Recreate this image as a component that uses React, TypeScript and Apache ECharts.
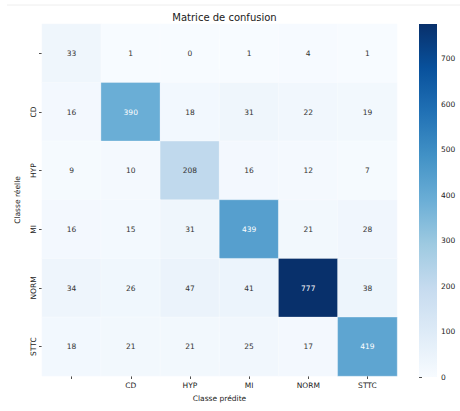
import React, { useEffect, useRef } from "react";
import * as echarts from "echarts";

const classes = ["-", "CD", "HYP", "MI", "NORM", "STTC"];
const rowDash = [33, 1, 0, 1, 4, 1];
const rowCD = [16, 390, 18, 31, 22, 19];
const rowHYP = [9, 10, 208, 16, 12, 7];
const rowMI = [16, 15, 31, 439, 21, 28];
const rowNORM = [34, 26, 47, 41, 777, 38];
const rowSTTC = [18, 21, 21, 25, 17, 419];
const matrix = [rowDash, rowCD, rowHYP, rowMI, rowNORM, rowSTTC];
const colorbarMax = 777;
const blues = ["#f7fbff", "#deebf7", "#c6dbef", "#9ecae1", "#6baed6", "#4292c6", "#2171b5", "#08519c", "#08306b"];

const FONT = "DejaVu Sans";
const CB = { left: 419, top: 24, width: 18, height: 353 };

export default function App() {
  const ref = useRef<HTMLDivElement>(null);
  useEffect(() => {
    document.body.style.margin = "0";
    const chart = echarts.init(ref.current!, null, { renderer: "svg" });
    const data: any[] = [];
    matrix.forEach((row, yi) =>
      row.forEach((v, xi) => {
        data.push({
          value: [xi, yi, v],
          label: { color: v > 300 ? "#ffffff" : "#333333" },
        });
      })
    );
    const stops = blues.map((c, i) => ({ offset: 1 - i / (blues.length - 1), color: c }));
    stops.reverse();
    chart.setOption({
      animation: false,
      backgroundColor: "#ffffff",
      textStyle: { fontFamily: FONT },
      title: {
        text: "Matrice de confusion",
        left: 219.5,
        textAlign: "center",
        top: 7,
        textStyle: { fontFamily: FONT, fontSize: 10, fontWeight: "normal", color: "#1a1a1a" },
      },
      graphic: [
        { type: "line", shape: { x1: 7, y1: 5, x2: 460, y2: 5 }, style: { stroke: "#eeeeee", lineWidth: 1 } },
        {
          type: "rect",
          shape: { x: CB.left, y: CB.top, width: CB.width, height: CB.height },
          style: {
            fill: new echarts.graphic.LinearGradient(0, 0, 0, 1, stops),
          },
          z: 1,
        },
      ],
      grid: [
        { left: 42, top: 24, width: 355, height: 352 },
        { left: CB.left, top: CB.top, width: CB.width, height: CB.height },
      ],
      xAxis: [
        {
          type: "category",
          gridIndex: 0,
          data: classes,
          name: "Classe prédite",
          nameLocation: "middle",
          nameGap: 18,
          nameTextStyle: { fontFamily: FONT, fontSize: 7.5, color: "#222" },
          axisLine: { show: false },
          axisTick: { show: true, alignWithLabel: true, length: 3, lineStyle: { color: "#222", width: 0.8 } },
          axisLabel: {
            fontFamily: FONT,
            fontSize: 7.5,
            color: "#222",
            margin: 5,
            formatter: (v: string) => (v === "-" ? "" : v),
          },
          splitLine: { show: false },
        },
        { type: "value", gridIndex: 1, show: false, min: 0, max: 1 },
      ],
      yAxis: [
        {
          type: "category",
          gridIndex: 0,
          data: classes,
          inverse: true,
          name: "Classe réelle",
          nameLocation: "middle",
          nameGap: 19,
          nameRotate: 90,
          nameTextStyle: { fontFamily: FONT, fontSize: 7.5, color: "#222" },
          axisLine: { show: false },
          axisTick: { show: true, alignWithLabel: true, length: 3, lineStyle: { color: "#222", width: 0.8 } },
          axisLabel: {
            fontFamily: FONT,
            fontSize: 7.5,
            color: "#222",
            rotate: 90,
            margin: 5,
            formatter: (v: string) => (v === "-" ? "" : v),
          },
          splitLine: { show: false },
        },
        {
          type: "value",
          gridIndex: 1,
          position: "right",
          min: 0,
          max: colorbarMax,
          interval: 100,
          axisLine: { show: false },
          axisTick: { show: true, length: 3, lineStyle: { color: "#222", width: 0.8 } },
          axisLabel: {
            fontFamily: FONT,
            fontSize: 7.5,
            color: "#222",
            margin: 4,
            showMaxLabel: false,
            formatter: (v: number) => (v % 100 === 0 ? String(v) : ""),
          },
          splitLine: { show: false },
        },
      ],
      visualMap: {
        type: "continuous",
        show: false,
        seriesIndex: 0,
        min: 0,
        max: colorbarMax,
        inRange: { color: blues },
      },
      series: [
        {
          type: "heatmap",
          xAxisIndex: 0,
          yAxisIndex: 0,
          data,
          itemStyle: { borderColor: "rgba(255,255,255,0.6)", borderWidth: 0.5 },
          label: { show: true, fontFamily: FONT, fontSize: 7.5 },
          emphasis: { disabled: true },
        },
      ],
    });
    return () => chart.dispose();
  }, []);
  return <div ref={ref} style={{ width: 460, height: 411 }} />;
}
